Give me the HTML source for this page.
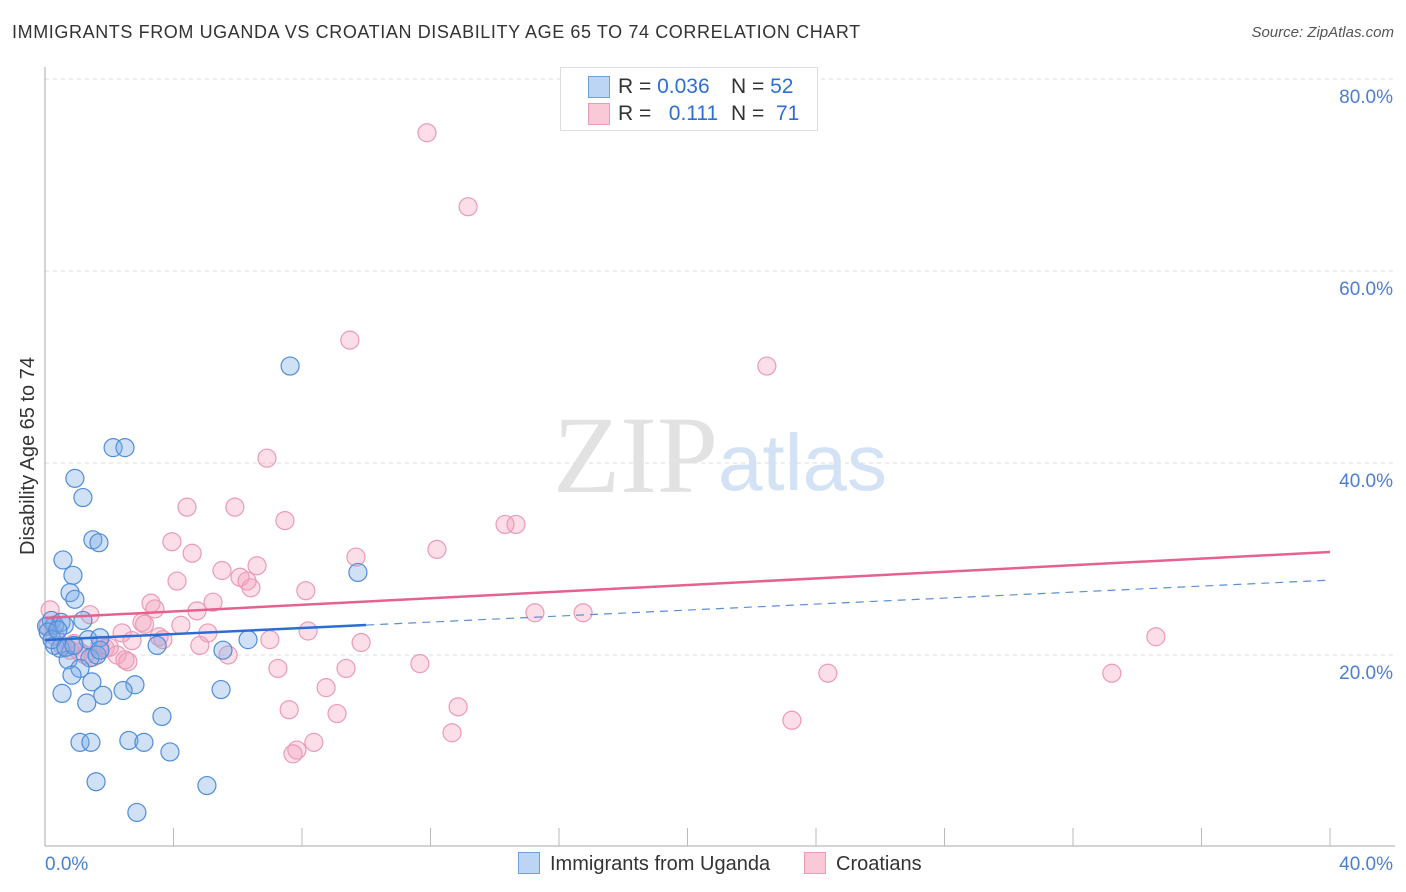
<!DOCTYPE html>
<html><head><meta charset="utf-8">
<style>
body{margin:0;background:#fff;font-family:"Liberation Sans",sans-serif;}
#wrap{position:relative;width:1406px;height:892px;overflow:hidden;}
.t{position:absolute;white-space:nowrap;}
</style></head><body>
<div id="wrap">
<div class="t" style="left:12px;top:22px;font-size:18px;color:#333;letter-spacing:0.6px">IMMIGRANTS FROM UGANDA VS CROATIAN DISABILITY AGE 65 TO 74 CORRELATION CHART</div>
<div class="t" style="right:12px;top:24px;font-size:15px;color:#555;font-style:italic">Source: ZipAtlas.com</div>
<svg id="svg" width="1406" height="892" style="position:absolute;left:0;top:0"></svg>
</div>
<script>
const ns="http://www.w3.org/2000/svg";
const svg=document.getElementById('svg');
const yTicks=[20,40,60,80];
const yTickLabels=["20.0%","40.0%","60.0%","80.0%"];
const xTickLabels=["0.0%","40.0%"];
const blueX=[7.63,2.12,2.49,0.93,1.18,1.49,1.68,0.56,0.87,9.74,0.78,0.93,1.18,0.2,0.3,0.5,0.6,0.05,1.34,1.71,3.49,6.32,0.3,0.47,1.4,1.62,0.72,5.54,1.09,0.84,1.46,2.8,0.53,1.8,2.43,5.48,1.3,3.64,1.09,1.43,2.61,3.08,3.89,1.59,5.04,2.86,0.1,0.22,0.4,0.65,0.9,1.71];
const blueY=[50.1,41.6,41.6,38.4,36.4,32.0,31.7,29.9,28.3,28.6,26.5,25.8,23.6,23.6,23.1,23.4,23.1,23.0,21.6,21.8,21.0,21.6,21.0,20.7,19.7,20.0,19.5,20.5,18.6,17.9,17.2,16.9,16.0,15.8,16.3,16.4,15.0,13.6,10.9,10.9,11.1,10.9,9.9,6.8,6.4,3.6,22.4,21.6,22.6,20.8,21.0,20.5];
const pinkX=[11.89,13.17,9.49,22.47,6.91,4.42,5.91,7.47,14.32,14.66,3.95,4.58,12.2,9.68,6.6,5.51,4.11,6.07,6.29,6.41,8.12,3.3,3.42,5.23,4.73,1.4,15.25,16.75,3.02,4.23,2.4,5.07,8.19,3.55,3.67,2.71,7.0,9.84,34.58,1.71,1.87,4.82,5.7,2.24,2.49,7.25,9.37,11.67,2.58,24.37,33.21,8.75,7.6,9.09,12.86,23.25,12.67,8.37,7.84,7.72,0.16,0.53,0.78,1.09,1.25,0.3,2.0,0.9,1.5,3.1,0.1];
const pinkY=[74.4,66.7,52.8,50.1,40.5,35.4,35.4,34.0,33.6,33.6,31.8,30.6,31.0,30.2,29.3,28.8,27.7,28.1,27.7,27.0,26.7,25.4,24.8,25.5,24.6,24.2,24.4,24.4,23.4,23.1,22.3,22.3,22.5,21.9,21.6,21.5,21.6,21.3,21.9,21.0,20.7,21.0,20.0,20.0,19.5,18.6,18.6,19.1,19.3,18.1,18.1,16.6,14.3,13.9,14.6,13.2,11.9,10.9,10.1,9.7,24.7,21.0,20.5,20.3,20.0,22.0,20.8,21.2,19.8,23.2,23.0];
const blueLine=[21.56,27.8];
const pinkLine=[23.85,30.73];
const X=v=>45+v*32.125, Y=v=>847-v*9.6;
function el(t,a,p){const e=document.createElementNS(ns,t);for(const k in a)e.setAttribute(k,a[k]);(p||svg).appendChild(e);return e;}
yTicks.forEach((v,i)=>{
 const g=el('line',{x1:45,x2:1395,y1:Y(v),y2:Y(v),stroke:'#dcdcdc','stroke-dasharray':'4,4'});
 
 
 const t=el('text',{x:1393,y:Y(v)+24,'text-anchor':'end','font-size':19,fill:'#4a7fd4','font-family':'Liberation Sans'});
 t.textContent=yTickLabels[i];
 
 
});
const ax=el('line',{x1:45,x2:45,y1:67,y2:846,stroke:'#aaa'});


const bx=el('line',{x1:45,x2:1395,y1:846,y2:846,stroke:'#aaa'});


for(let i=1;i<=10;i++){const tk=el('line',{x1:X(i*4),x2:X(i*4),y1:828,y2:846,stroke:'#bbb'});
 
 }
[[0,'start',45],[40,'end',1393]].forEach((d,i)=>{const t=el('text',{x:d[2],y:870,'text-anchor':d[1],'font-size':19,fill:'#4a7fd4','font-family':'Liberation Sans'});t.textContent=xTickLabels[i];
 
 });
const wm=el('text',{x:553,y:492,'font-size':110,fill:'#e2e2e2','font-family':'Liberation Serif'});wm.textContent='ZIP';


const wm2=el('text',{x:718,y:490,'font-size':80,fill:'#d4e2f5','font-family':'Liberation Sans'});wm2.textContent='atlas';


function pts(xs,ys,fill,stroke,name){xs.forEach((x,i)=>{const c=el('circle',{cx:X(x),cy:Y(ys[i]),r:9,fill:fill,stroke:stroke,'stroke-width':1.2});
 
 });}
pts(pinkX,pinkY,'rgba(244,160,188,0.35)','#ec9ab5','croatians-point');
pts(blueX,blueY,'rgba(120,170,230,0.35)','#4f8ddb','uganda-point');
const pl=el('line',{x1:X(0),y1:Y(pinkLine[0]),x2:X(40),y2:Y(pinkLine[1]),stroke:'#e5628e','stroke-width':2.5});


const bm=v=>blueLine[0]+(blueLine[1]-blueLine[0])*v/40;
const bl=el('line',{x1:X(0),y1:Y(bm(0)),x2:X(10),y2:Y(bm(10)),stroke:'#2a6dd4','stroke-width':2.5});


const bd=el('line',{x1:X(10),y1:Y(bm(10)),x2:X(40),y2:Y(bm(40)),stroke:'#5b8fd8','stroke-width':1.2,'stroke-dasharray':'8,6'});


const yt=el('text',{x:0,y:0,transform:'translate(34,456) rotate(-90)','text-anchor':'middle','font-size':20,fill:'#333','font-family':'Liberation Sans'});yt.textContent='Disability Age 65 to 74';


</script>
<div class="t" style="left:560px;top:67px;width:256px;height:62px;border:1px solid #ddd;background:#fff;font-size:21px;color:#333">
 <div style="position:absolute;left:27px;top:8px;width:20px;height:20px;background:#bcd5f5;border:1px solid #6ea0e0"></div>
 <div class="t" style="left:57px;top:7px">R = <span style="color:#2d6fd6">0.036</span></div>
 <div class="t" style="left:170px;top:7px">N = <span style="color:#2d6fd6">52</span></div>
 <div style="position:absolute;left:27px;top:35px;width:20px;height:20px;background:#f9c9d8;border:1px solid #ec9ab5"></div>
 <div class="t" style="left:57px;top:34px">R = &nbsp;&nbsp;<span style="color:#2d6fd6">0.111</span></div>
 <div class="t" style="left:170px;top:34px">N = &nbsp;<span style="color:#2d6fd6">71</span></div>
</div>
<div class="t" style="left:518px;top:852px;font-size:20px;color:#333">
 <span style="display:inline-block;width:20px;height:20px;background:#bcd5f5;border:1px solid #6ea0e0;vertical-align:-4px;margin-right:10px"></span>Immigrants from Uganda</div>
<div class="t" style="left:804px;top:852px;font-size:20px;color:#333">
 <span style="display:inline-block;width:20px;height:20px;background:#f9c9d8;border:1px solid #ec9ab5;vertical-align:-4px;margin-right:10px"></span>Croatians</div>
</body></html>
